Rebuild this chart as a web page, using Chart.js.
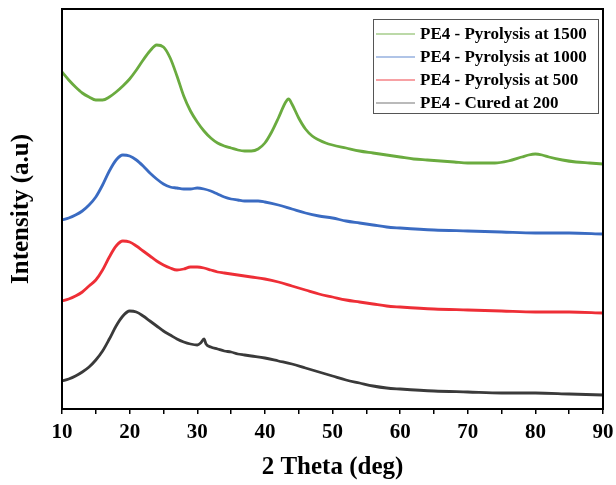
<!DOCTYPE html>
<html>
<head>
<meta charset="utf-8">
<script src="https://cdn.jsdelivr.net/npm/chart.js@4.4.1/dist/chart.umd.min.js"></script>
<style>
  html, body { margin: 0; padding: 0; background: #fff; }
  canvas { display: block; }
</style>
</head>
<body>
<canvas id="c" width="616" height="485"></canvas>
<script>
// ---- data (2θ in degrees, intensity in arbitrary units) ----
const labels = ["PE4 - Pyrolysis at 1500", "PE4 - Pyrolysis at 1000", "PE4 - Pyrolysis at 500", "PE4 - Cured at 200"];
const xTicks = [10, 20, 30, 40, 50, 60, 70, 80, 90];

const angGreen = [10,11,12,13,14,15,16,17,18,19,20,21,22,23,24,25,26,27,28,29,30,31,32,33,34,35,36,37,38,39,40,41,42,43,43.5,44,45,46,47,48,49,50,52,54,56,58,60,62,64,66,68,70,72,74,76,78,79,80,81,82,84,86,88,90];
const intGreen = [337,329,322,316,312,309,309,312,317,323,330,339,349,358,364,362,351,333,313,298,287,278,271,266,263,261,259,258,258,260,266,277,291,306,310,305,291,280,273,269,266,264,261,258,256,254,252,250,249,248,247,246,246,246,248,252,254,255,254,252,249,247,246,245];

const angBlue = [10,11,12,13,14,15,16,17,18,19,20,21,22,23,24,25,26,27,28,29,30,31,32,33,34,35,36,37,38,39,40,42,44,46,48,50,52,54,56,58,60,65,70,75,80,85,90];
const intBlue = [189,191,194,198,204,212,224,238,249,254,253,249,243,236,230,225,222,221,220,220,221,220,218,215,212,210,209,208,208,208,207,204,200,196,193,191,188,186,184,182,181,179,178,177,176,176,175];

const angRed = [10,11,12,13,14,15,16,17,18,19,20,21,22,23,24,25,26,27,28,29,30,31,32,33,34,35,36,38,40,42,44,46,48,50,52,54,56,58,60,65,70,75,80,85,90];
const intRed = [108,110,113,117,123,129,139,152,163,168,167,163,158,153,148,144,141,139,140,142,142,141,139,137,136,135,134,132,130,127,123,119,115,112,109,107,105,103,102,100,99,98,97,97,96];

const angBlack = [10,11,12,13,14,15,16,17,18,19,20,21,22,23,24,25,26,27,28,29,30,30.5,31,31.3,32,33,34,35,36,37,38,40,42,44,46,48,50,52,54,56,58,60,65,70,75,80,85,90];
const intBlack = [28,30,33,37,42,49,58,70,83,93,98,97,93,88,83,78,74,70,67,65,64,66,70,65,62,60,58,57,55,54,53,51,48,45,41,37,33,29,26,23,21,20,18,17,16,16,15,14];

const colors = ['#6aab3f', '#3a6bc2', '#ee2e36', '#3a3a3a'];
const legendColors = ['rgba(106,171,63,0.45)', 'rgba(58,107,194,0.4)', 'rgba(238,46,54,0.45)', 'rgba(58,58,58,0.35)'];

function pts(a, v) { return a.map((x, i) => ({ x: x, y: v[i] })); }

Chart.defaults.font.family = "'Liberation Serif', 'Times New Roman', serif";
Chart.defaults.color = '#000';

const frameAndLegend = {
  id: 'frameAndLegend',
  afterDraw(chart) {
    const ctx = chart.ctx;
    const a = chart.chartArea;
    ctx.save();
    ctx.strokeStyle = '#000';
    ctx.lineWidth = 2;
    ctx.strokeRect(a.left, a.top, a.right - a.left, a.bottom - a.top);
    // legend
    const bx = 373, by = 19, bw = 225, bh = 94;
    ctx.fillStyle = '#fff';
    ctx.fillRect(bx, by, bw, bh);
    ctx.lineWidth = 1;
    ctx.strokeStyle = '#555';
    ctx.strokeRect(bx + 0.5, by + 0.5, bw, bh);
    ctx.font = "bold 17px 'Liberation Serif', 'Times New Roman', serif";
    ctx.textBaseline = 'middle';
    ctx.fillStyle = '#000';
    chart.data.datasets.forEach((ds, i) => {
      const y = by + 15 + i * 23;
      ctx.strokeStyle = legendColors[i];
      ctx.lineWidth = 2;
      ctx.beginPath();
      ctx.moveTo(bx + 3, y);
      ctx.lineTo(bx + 42, y);
      ctx.stroke();
      ctx.fillText(ds.label, bx + 47, y + 1);
    });
    ctx.restore();
  }
};

new Chart(document.getElementById('c'), {
  type: 'line',
  data: {
    datasets: [
      { label: labels[0], data: pts(angGreen, intGreen), borderColor: colors[0] },
      { label: labels[1], data: pts(angBlue, intBlue), borderColor: colors[1] },
      { label: labels[2], data: pts(angRed, intRed), borderColor: colors[2] },
      { label: labels[3], data: pts(angBlack, intBlack), borderColor: colors[3] }
    ]
  },
  options: {
    responsive: false,
    animation: false,
    devicePixelRatio: 1,
    layout: { padding: { top: 9, right: 13, left: 0, bottom: 0 } },
    elements: {
      point: { radius: 0 },
      line: { borderWidth: 2.8, cubicInterpolationMode: 'monotone', fill: false }
    },
    plugins: { legend: { display: false }, tooltip: { enabled: false } },
    scales: {
      x: {
        type: 'linear',
        min: 10, max: 90,
        border: { display: false },
        grid: { display: true, drawOnChartArea: false, drawTicks: true, tickLength: 5, color: '#000', lineWidth: 1.5 },
        ticks: {
          stepSize: 5, autoSkip: false, maxRotation: 0, padding: 6,
          font: { size: 21, weight: 'bold' },
          callback: (v) => (xTicks.includes(v) ? String(v) : '')
        },
        title: { display: true, text: '2 Theta (deg)', font: { size: 25, weight: 'bold' }, padding: { top: 0, bottom: 2 } },
        afterFit: (s) => { s.height = 76; s.paddingLeft = 0; s.paddingRight = 0; }
      },
      y: {
        min: 0, max: 400,
        border: { display: false },
        grid: { display: false },
        ticks: { display: false },
        title: { display: true, text: 'Intensity (a.u)', font: { size: 25, weight: 'bold' }, padding: { top: 7, bottom: 0 } },
        afterFit: (s) => { s.width = 62; s.paddingTop = 0; s.paddingBottom = 0; }
      }
    }
  },
  plugins: [frameAndLegend]
});
</script>
</body>
</html>
